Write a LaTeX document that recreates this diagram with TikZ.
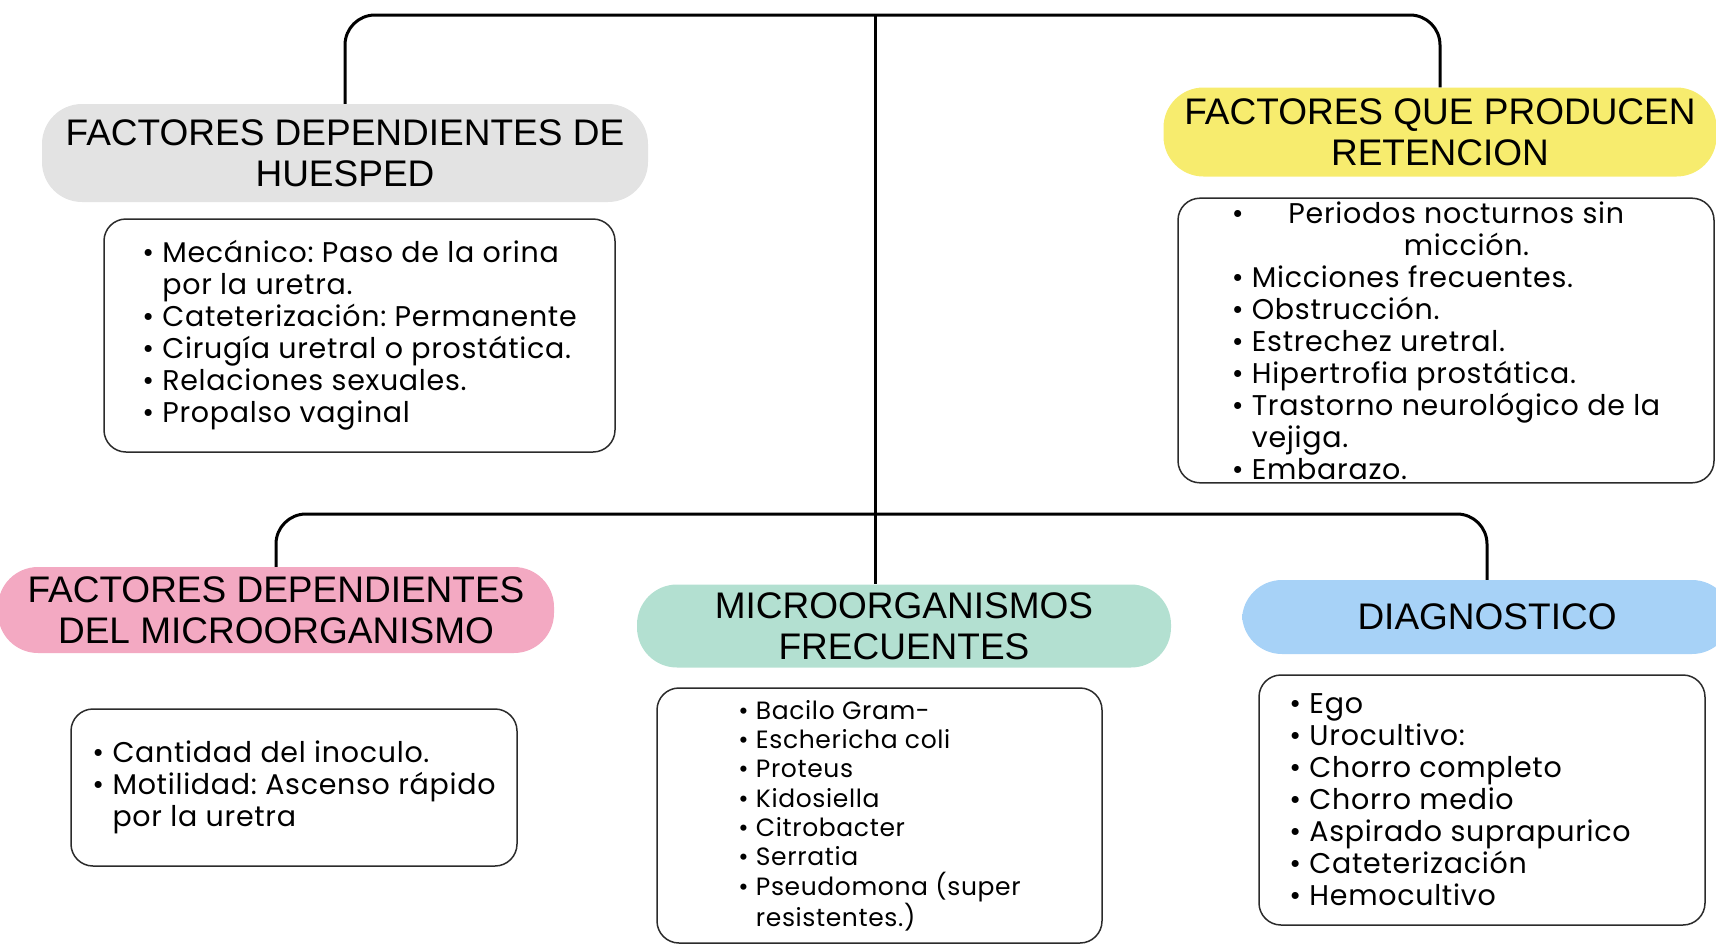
\documentclass[tikz,border=0pt]{standalone}
\usepackage{fontspec}
\setmainfont{Poppins}[LetterSpace=2.5]
\newfontfamily\headfont{Liberation Sans}

\definecolor{huespedgray}{HTML}{E3E3E3}
\definecolor{retencionyellow}{HTML}{F7EC6E}
\definecolor{microbiopink}{HTML}{F3A9C2}
\definecolor{frecuentesgreen}{HTML}{B3E0D1}
\definecolor{diagnosticoblue}{HTML}{A7D2F7}
\definecolor{boxline}{HTML}{2B2B2B}

\newcommand{\gap}{\phantom{\textbullet\ }}
\frenchspacing

\begin{document}
\begin{tikzpicture}[x=1pt,y=-1pt,
    head/.style={rounded corners=40pt, inner sep=0pt, align=center,
        font=\headfont\fontsize{37}{41}\selectfont},
    listbox/.style={draw=boxline, line width=1.5pt, rounded corners=22pt, align=left,
        font=\fontsize{28.5}{32}\selectfont},
    link/.style={line width=3pt, rounded corners=30pt}]
    \useasboundingbox (0,0) rectangle (1716,945);

    % headings
    \node[head, fill=huespedgray, minimum width=606pt, minimum height=98pt] (huesped) at (345,153) {FACTORES DEPENDIENTES DE\\HUESPED};
    \node[head, fill=retencionyellow, minimum width=553pt, minimum height=89pt] (retencion) at (1440,132) {FACTORES QUE PRODUCEN\\RETENCION};
    \node[head, fill=microbiopink, minimum width=556pt, minimum height=86pt] (microbio) at (276,610) {FACTORES DEPENDIENTES\\DEL MICROORGANISMO};
    \node[head, fill=frecuentesgreen, minimum width=534pt, minimum height=83pt] (frecuentes) at (904,626) {MICROORGANISMOS\\FRECUENTES};
    \node[head, fill=diagnosticoblue, minimum width=490pt, minimum height=74pt] (diagnostico) at (1487,617) {DIAGNOSTICO};

    % connectors
    \coordinate (top) at (875,15);
    \coordinate (mid) at (875,514);
    \draw[link] (huesped.north) |- (top) -| (retencion.north);
    \draw[link] (top) -- (top |- frecuentes.north);
    \draw[link] (microbio.north) |- (mid) -| (diagnostico.north);

    % lists
    \node[listbox, minimum width=511pt, minimum height=233pt] (huespedlist) at (359.5,335.5) {%
        \textbullet\ Mecánico: Paso de la orina\\
        \gap por la uretra.\\
        \textbullet\ Cateterización: Permanente\\
        \textbullet\ Cirugía uretral o prostática.\\
        \textbullet\ Relaciones sexuales.\\
        \textbullet\ Propalso vaginal};
    \node[listbox, minimum width=536pt, minimum height=283pt] (retencionlist) at (1446,340.5) {%
        \textbullet\hspace*{45pt}Periodos nocturnos sin\\
        \hspace*{172pt}micción.\\
        \textbullet\ Micciones frecuentes.\\
        \textbullet\ Obstrucción.\\
        \textbullet\ Estrechez uretral.\\
        \textbullet\ Hipertrofia prostática.\\
        \textbullet\ Trastorno neurológico de la\\
        \gap vejiga.\\
        \textbullet\ Embarazo.};
    \node[listbox, minimum width=446pt, minimum height=157pt] (microbiolist) at (294,787.5) {%
        \textbullet\ Cantidad del inoculo.\\
        \textbullet\ Motilidad: Ascenso rápido\\
        \gap por la uretra};
    \node[listbox, minimum width=445pt, minimum height=255pt, font=\fontsize{25}{29.3}\selectfont] (frecuenteslist) at (879.5,815.5) {%
        \textbullet\ Bacilo Gram-\\
        \textbullet\ Eschericha coli\\
        \textbullet\ Proteus\\
        \textbullet\ Kidosiella\\
        \textbullet\ Citrobacter\\
        \textbullet\ Serratia\\
        \textbullet\ Pseudomona (super\\
        \gap resistentes.)};
    \node[listbox, minimum width=446pt, minimum height=250pt] (diagnosticolist) at (1482,800) {%
        \textbullet\ Ego\\
        \textbullet\ Urocultivo:\\
        \textbullet\ Chorro completo\\
        \textbullet\ Chorro medio\\
        \textbullet\ Aspirado suprapurico\rule{44pt}{0pt}\\
        \textbullet\ Cateterización\\
        \textbullet\ Hemocultivo};
\end{tikzpicture}
\end{document}
